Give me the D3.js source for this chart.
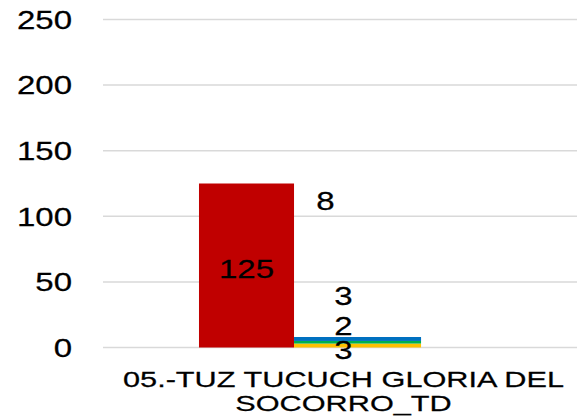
<!DOCTYPE html>
<html>
<head>
<meta charset="utf-8">
<script src="https://cdn.jsdelivr.net/npm/d3@7"></script>
<style>
  html, body { margin: 0; padding: 0; background: #fff; }
  svg { display: block; font-family: "Liberation Sans", Arial, sans-serif; }
</style>
</head>
<body>
<svg id="chart" width="577" height="419"></svg>
<script>
// Chart data
const categories = ["05.-TUZ TUCUCH GLORIA DEL SOCORRO_TD"];
const categoryLines = [["05.-TUZ TUCUCH GLORIA DEL", "SOCORRO_TD"]];
const mainValues = [125];
const stackKeys = ["amarillo", "verde", "azul"];
const stackValues = [{ amarillo: 3, verde: 2, azul: 3 }];
const stackColors = ["#FFC000", "#00B050", "#0070C0"];
const mainColor = "#C00000";
const yTicks = [0, 50, 100, 150, 200, 250];

const svg = d3.select("#chart");
const plot = { left: 103, right: 577, top: 19.5, bottom: 347.5 };

const y = d3.scaleLinear().domain([0, 250]).range([plot.bottom, plot.top]);
const x = d3.scaleBand().domain(categories).range([plot.left, plot.right]);

// text widened horizontally like the original rendering
function wideText(sel, sx) {
  sel.attr("transform", d => `translate(${d.x},${d.y}) scale(${sx},1)`)
    .attr("stroke", "#000").attr("stroke-width", 0.25);
}

// gridlines
svg.append("g").selectAll("line").data(yTicks).join("line")
  .attr("x1", plot.left).attr("x2", plot.right)
  .attr("y1", d => y(d)).attr("y2", d => y(d))
  .attr("stroke", "#d9d9d9").attr("stroke-width", 1.5);

// y tick labels
svg.append("g").selectAll("text").data(yTicks.map(t => ({ t, x: 72, y: y(t) }))).join("text")
  .attr("text-anchor", "end").attr("dy", "0.36em")
  .attr("font-size", 26).attr("fill", "#000")
  .text(d => d.t)
  .call(wideText, 1.27);

const bw = x.bandwidth();
const mainX0 = c => x(c) + bw * 0.2025;
const mainX1 = c => x(c) + bw * 0.403;
const stackX0 = c => x(c) + bw * 0.403;
const stackX1 = c => x(c) + bw * 0.671;

// main bars
svg.append("g").selectAll("rect").data(categories).join("rect")
  .attr("x", c => mainX0(c)).attr("width", c => mainX1(c) - mainX0(c))
  .attr("y", (c, i) => y(mainValues[i]))
  .attr("height", (c, i) => y(0) - y(mainValues[i]))
  .attr("fill", mainColor);

// stacked bars
const stacked = d3.stack().keys(stackKeys)(stackValues);
stacked.forEach((layer, k) => {
  svg.append("g").selectAll("rect").data(layer).join("rect")
    .attr("x", (d, i) => stackX0(categories[i]))
    .attr("width", (d, i) => stackX1(categories[i]) - stackX0(categories[i]))
    .attr("y", d => y(d[1]))
    .attr("height", d => y(d[0]) - y(d[1]))
    .attr("fill", stackColors[k]);
});

// value labels; segment labels are pushed apart so they stay readable
const labelLift = [0, 21.5, 47.5];
const labels = [];
categories.forEach((c, i) => {
  labels.push({ text: mainValues[i], x: (mainX0(c) + mainX1(c)) / 2, y: (y(mainValues[i]) + y(0)) / 2 + 3 });
  const sc = (stackX0(c) + stackX1(c)) / 2;
  stacked.forEach((layer, k) => {
    const d = layer[i];
    labels.push({ text: d[1] - d[0], x: sc - 14, y: y((d[0] + d[1]) / 2) + 4.5 - labelLift[k] });
  });
  const total = d3.sum(stackKeys, k => stackValues[i][k]);
  labels.push({ text: total, x: sc - 32, y: y(mainValues[i]) + 17.5 });
});
svg.append("g").selectAll("text").data(labels).join("text")
  .attr("text-anchor", "middle").attr("dy", "0.36em")
  .attr("font-size", 26).attr("fill", "#000")
  .text(d => d.text)
  .call(wideText, 1.27);

// category label
categories.forEach((c, i) => {
  const cx = x(c) + bw / 2 + 3.5;
  svg.append("g").selectAll("text")
    .data(categoryLines[i].map((t, j) => ({ t, x: cx, y: 387 + j * 24 })))
    .join("text")
    .attr("text-anchor", "middle")
    .attr("font-size", 22.4).attr("fill", "#000")
    .text(d => d.t)
    .call(wideText, 1.37);
});
</script>
</body>
</html>
